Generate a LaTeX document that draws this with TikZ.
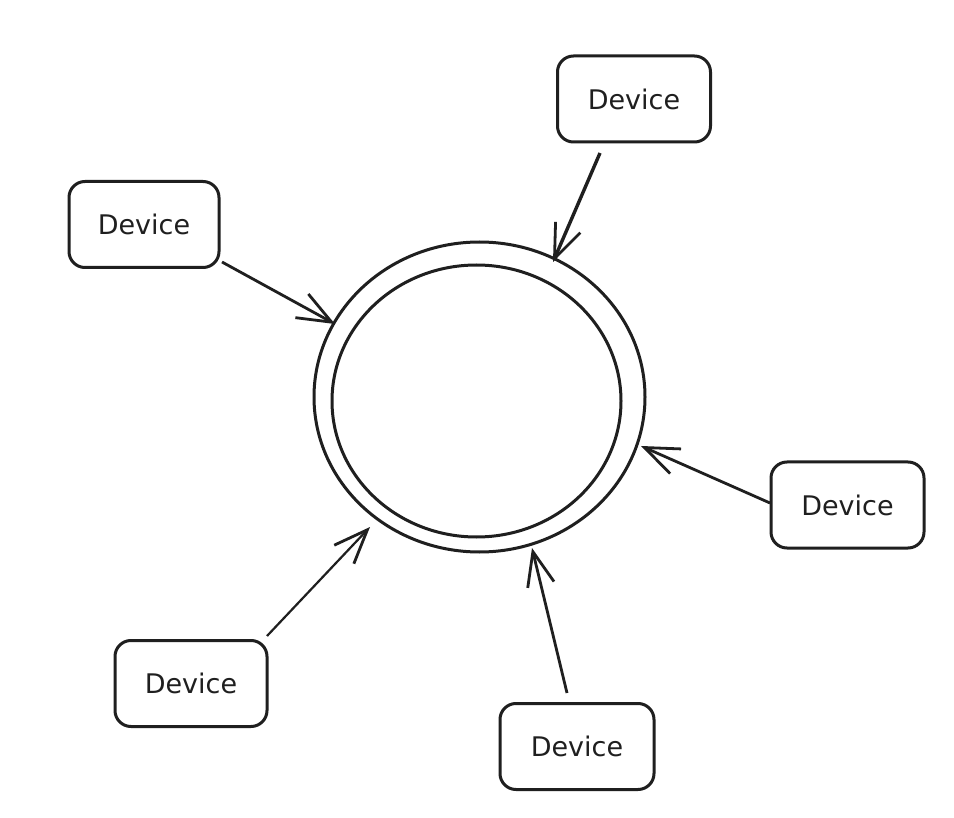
\documentclass[tikz,border=0pt]{standalone}
\usepackage{fontspec}
\setmainfont{DejaVu Sans}
\usetikzlibrary{arrows.meta}
\tikzset{
  devbox/.style={draw=black!88, line width=3pt, rounded corners=16pt, minimum width=#1, minimum height=86pt, inner sep=0pt, font=\fontsize{27}{30}\selectfont, text=black!88},
  devbox/.default=153pt,
  link/.style={draw=black!88, line width=2.8pt, -{Straight Barb[length=34pt,width=27pt,line width=2.8pt]}},
  ring/.style={draw=black!88, line width=3pt}
}
\begin{document}
\begin{tikzpicture}[x=1pt,y=-1pt]
\useasboundingbox[fill=white] (0,0) rectangle (954,818);
% ring
\draw[ring] (479.5,397) ellipse [x radius=165.5, y radius=155];
\draw[ring] (476.5,401) ellipse [x radius=144.5, y radius=136];
% devices
\node[devbox] (d1) at (634,99) {Device};
\node[devbox=150pt] (d2) at (144,224.5) {Device};
\node[devbox] (d3) at (847.5,505) {Device};
\node[devbox=152pt] (d4) at (191,683.5) {Device};
\node[devbox=154pt] (d5) at (577,746.5) {Device};
% connector ends
\coordinate (s1) at (600,153); \coordinate (e1) at (553,262);
\coordinate (s2) at (222,262); \coordinate (e2) at (335,324);
\coordinate (s3) at (770,503); \coordinate (e3) at (641,446);
\coordinate (s4) at (267,636); \coordinate (e4) at (370,527);
\coordinate (s5) at (567,693); \coordinate (e5) at (532,548);
\draw[link, line width=3.4pt] (s1) -- (e1);
\draw[link] (s2) -- (e2);
\draw[link] (s3) -- (e3);
\draw[link, line width=2.2pt] (s4) -- (e4);
\draw[link] (s5) -- (e5);
\end{tikzpicture}
\end{document}
